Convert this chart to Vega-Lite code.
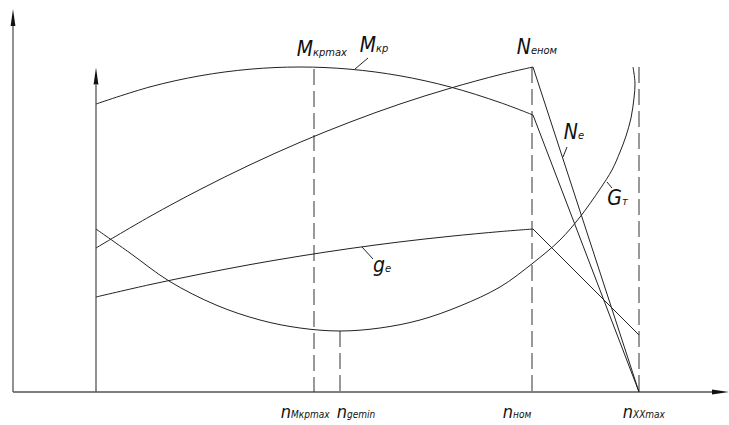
{
  "$schema": "https://vega.github.io/schema/vega-lite/v6.json",
  "width": 729,
  "height": 425,
  "autosize": {"type": "fit", "contains": "padding"},
  "padding": 0,
  "background": "white",
  "config": {"view": {"stroke": null}},
  "datasets": {
    "curves": [
      {"s": "Mkp", "i": 0, "X": 83, "Y": 288},
      {"s": "Mkp", "i": 1, "X": 137, "Y": 305.1},
      {"s": "Mkp", "i": 2, "X": 187, "Y": 316.2},
      {"s": "Mkp", "i": 3, "X": 237, "Y": 322.8},
      {"s": "Mkp", "i": 4, "X": 287, "Y": 325},
      {"s": "Mkp", "i": 5, "X": 337, "Y": 322.8},
      {"s": "Mkp", "i": 6, "X": 387, "Y": 316.2},
      {"s": "Mkp", "i": 7, "X": 437, "Y": 305.1},
      {"s": "Mkp", "i": 8, "X": 487, "Y": 289.5},
      {"s": "Mkp", "i": 9, "X": 520, "Y": 277},
      {"s": "Ne", "i": 0, "X": 83, "Y": 144},
      {"s": "Ne", "i": 1, "X": 137, "Y": 175.6},
      {"s": "Ne", "i": 2, "X": 187, "Y": 202.5},
      {"s": "Ne", "i": 3, "X": 237, "Y": 227.2},
      {"s": "Ne", "i": 4, "X": 287, "Y": 249.7},
      {"s": "Ne", "i": 5, "X": 337, "Y": 269.9},
      {"s": "Ne", "i": 6, "X": 387, "Y": 288},
      {"s": "Ne", "i": 7, "X": 437, "Y": 303.7},
      {"s": "Ne", "i": 8, "X": 487, "Y": 317.4},
      {"s": "Ne", "i": 9, "X": 520, "Y": 325},
      {"s": "ge", "i": 0, "X": 83, "Y": 95},
      {"s": "ge", "i": 1, "X": 137, "Y": 107.4},
      {"s": "ge", "i": 2, "X": 187, "Y": 117.8},
      {"s": "ge", "i": 3, "X": 237, "Y": 127.4},
      {"s": "ge", "i": 4, "X": 287, "Y": 135.9},
      {"s": "ge", "i": 5, "X": 337, "Y": 143.5},
      {"s": "ge", "i": 6, "X": 387, "Y": 150.1},
      {"s": "ge", "i": 7, "X": 437, "Y": 155.7},
      {"s": "ge", "i": 8, "X": 487, "Y": 160.4},
      {"s": "ge", "i": 9, "X": 520, "Y": 163},
      {"s": "Gt", "i": 0, "X": 83, "Y": 163},
      {"s": "Gt", "i": 1, "X": 117, "Y": 139},
      {"s": "Gt", "i": 2, "X": 156, "Y": 111},
      {"s": "Gt", "i": 3, "X": 203, "Y": 87},
      {"s": "Gt", "i": 4, "X": 247, "Y": 72},
      {"s": "Gt", "i": 5, "X": 287, "Y": 64},
      {"s": "Gt", "i": 6, "X": 327, "Y": 61},
      {"s": "Gt", "i": 7, "X": 367, "Y": 64},
      {"s": "Gt", "i": 8, "X": 407, "Y": 72},
      {"s": "Gt", "i": 9, "X": 447, "Y": 86},
      {"s": "Gt", "i": 10, "X": 487, "Y": 105},
      {"s": "Gt", "i": 11, "X": 520, "Y": 129},
      {"s": "Gt", "i": 12, "X": 547, "Y": 152},
      {"s": "Gt", "i": 13, "X": 567, "Y": 175},
      {"s": "Gt", "i": 14, "X": 587, "Y": 203},
      {"s": "Gt", "i": 15, "X": 599, "Y": 222},
      {"s": "Gt", "i": 16, "X": 607, "Y": 240},
      {"s": "Gt", "i": 17, "X": 613, "Y": 256},
      {"s": "Gt", "i": 18, "X": 618, "Y": 274},
      {"s": "Gt", "i": 19, "X": 621, "Y": 294},
      {"s": "Gt", "i": 20, "X": 622, "Y": 309},
      {"s": "Gt", "i": 21, "X": 620, "Y": 325}
    ],
    "segs": [
      {"s": "Mkp_drop", "i": 0, "X": 520, "Y": 277},
      {"s": "Mkp_drop", "i": 1, "X": 626, "Y": 0},
      {"s": "Ne_drop", "i": 0, "X": 520, "Y": 325},
      {"s": "Ne_drop", "i": 1, "X": 626, "Y": 0},
      {"s": "ge_drop", "i": 0, "X": 520, "Y": 163},
      {"s": "ge_drop", "i": 1, "X": 626, "Y": 57},
      {"s": "lead_Mkp", "i": 0, "X": 355, "Y": 334},
      {"s": "lead_Mkp", "i": 1, "X": 342, "Y": 323},
      {"s": "lead_Ne", "i": 0, "X": 554, "Y": 245},
      {"s": "lead_Ne", "i": 1, "X": 550, "Y": 235},
      {"s": "lead_Gt", "i": 0, "X": 594, "Y": 210},
      {"s": "lead_Gt", "i": 1, "X": 599, "Y": 204},
      {"s": "lead_ge", "i": 0, "X": 349, "Y": 145},
      {"s": "lead_ge", "i": 1, "X": 360, "Y": 133}
    ],
    "axes": [
      {"X": 0, "Y": 0, "X2": 0, "Y2": 366},
      {"X": 83, "Y": 0, "X2": 83, "Y2": 307},
      {"X": 0, "Y": 0, "X2": 702, "Y2": 0}
    ],
    "arrows": [
      {"dir": "up", "X": 0, "Y": 374.5},
      {"dir": "up", "X": 83, "Y": 316},
      {"dir": "right", "X": 707.5, "Y": 0}
    ],
    "dashed": [
      {"X": 301, "Y": 323, "Y2": 0},
      {"X": 327, "Y": 61, "Y2": 0},
      {"X": 519, "Y": 325, "Y2": 0},
      {"X": 626, "Y": 325, "Y2": 0}
    ],
    "toplabels": [
      {"X": 300, "Y": 336, "main": "M", "sub": "крmax"},
      {"X": 363, "Y": 340, "main": "M", "sub": "кр"},
      {"X": 518, "Y": 338, "main": "N", "sub": "eном"},
      {"X": 565, "Y": 253, "main": "N", "sub": "e"},
      {"X": 609, "Y": 187, "main": "G", "sub": "т"},
      {"X": 372, "Y": 120, "main": "g", "sub": "e"}
    ],
    "botlabels": [
      {"X": 278, "Y": -26, "main": "n", "sub": "Mкрmax"},
      {"X": 334, "Y": -26, "main": "n", "sub": "gemin"},
      {"X": 500, "Y": -26, "main": "n", "sub": "ном"},
      {"X": 620, "Y": -26, "main": "n", "sub": "XXmax"}
    ]
  },
  "layer": [
    {
      "data": {"name": "axes"},
      "mark": {"type": "rule", "color": "#555", "strokeWidth": 1.3},
      "encoding": {
        "x": {"field": "X", "type": "quantitative", "scale": {"domain": [-13, 716], "nice": false, "zero": false}, "axis": null},
        "y": {"field": "Y", "type": "quantitative", "scale": {"domain": [-33, 392], "nice": false, "zero": false}, "axis": null},
        "x2": {"field": "X2"},
        "y2": {"field": "Y2"}
      }
    },
    {
      "data": {"name": "arrows"},
      "mark": {"type": "point", "filled": true, "color": "#111", "size": 289, "opacity": 1, "strokeWidth": 0},
      "encoding": {
        "x": {"field": "X", "type": "quantitative", "axis": null},
        "y": {"field": "Y", "type": "quantitative", "axis": null},
        "shape": {"field": "dir", "type": "nominal", "legend": null,
          "scale": {"domain": ["up", "right"], "range": ["M0,-1L0.28,1L-0.28,1Z", "M1,0L-1,-0.28L-1,0.28Z"]}}
      }
    },
    {
      "data": {"name": "dashed"},
      "mark": {"type": "rule", "color": "#333", "strokeWidth": 1, "strokeDash": [16, 6]},
      "encoding": {
        "x": {"field": "X", "type": "quantitative", "axis": null},
        "y": {"field": "Y", "type": "quantitative", "axis": null},
        "y2": {"field": "Y2"}
      }
    },
    {
      "data": {"name": "curves"},
      "mark": {"type": "line", "interpolate": "catmull-rom", "color": "#222", "strokeWidth": 1},
      "encoding": {
        "x": {"field": "X", "type": "quantitative", "axis": null},
        "y": {"field": "Y", "type": "quantitative", "axis": null},
        "detail": {"field": "s", "type": "nominal"},
        "order": {"field": "i", "type": "quantitative"}
      }
    },
    {
      "data": {"name": "segs"},
      "mark": {"type": "line", "color": "#222", "strokeWidth": 1},
      "encoding": {
        "x": {"field": "X", "type": "quantitative", "axis": null},
        "y": {"field": "Y", "type": "quantitative", "axis": null},
        "detail": {"field": "s", "type": "nominal"},
        "order": {"field": "i", "type": "quantitative"}
      }
    },
    {
      "data": {"name": "toplabels"},
      "mark": {"type": "text", "align": "right", "baseline": "alphabetic", "font": "DejaVu Sans Condensed, sans-serif", "fontStyle": "italic", "fontSize": 21, "color": "#111"},
      "encoding": {
        "x": {"field": "X", "type": "quantitative", "axis": null},
        "y": {"field": "Y", "type": "quantitative", "axis": null},
        "text": {"field": "main"}
      }
    },
    {
      "data": {"name": "toplabels"},
      "mark": {"type": "text", "align": "left", "baseline": "alphabetic", "dx": 0, "font": "DejaVu Sans Condensed, sans-serif", "fontStyle": "italic", "fontSize": 11, "color": "#111"},
      "encoding": {
        "x": {"field": "X", "type": "quantitative", "axis": null},
        "y": {"field": "Y", "type": "quantitative", "axis": null},
        "text": {"field": "sub"}
      }
    },
    {
      "data": {"name": "botlabels"},
      "mark": {"type": "text", "align": "right", "baseline": "alphabetic", "font": "DejaVu Sans Condensed, sans-serif", "fontStyle": "italic", "fontSize": 18, "color": "#111"},
      "encoding": {
        "x": {"field": "X", "type": "quantitative", "axis": null},
        "y": {"field": "Y", "type": "quantitative", "axis": null},
        "text": {"field": "main"}
      }
    },
    {
      "data": {"name": "botlabels"},
      "mark": {"type": "text", "align": "left", "baseline": "alphabetic", "dx": 0, "font": "DejaVu Sans Condensed, sans-serif", "fontStyle": "italic", "fontSize": 10, "color": "#111"},
      "encoding": {
        "x": {"field": "X", "type": "quantitative", "axis": null},
        "y": {"field": "Y", "type": "quantitative", "axis": null},
        "text": {"field": "sub"}
      }
    }
  ]
}
